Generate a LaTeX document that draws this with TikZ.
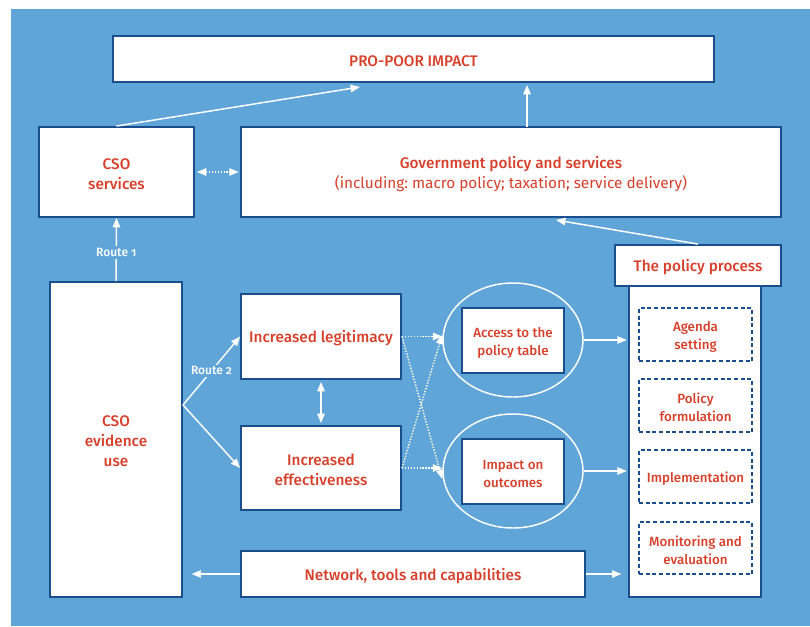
\documentclass[tikz,border=0pt]{standalone}
\usepackage{fontspec}
\setmainfont{Fira Sans}
\newfontfamily\medfont{Fira Sans Medium}
\newfontfamily\routefont{Fira Sans Medium}[Numbers=OldStyle]
\usetikzlibrary{arrows.meta,shapes.geometric,fit}
\frenchspacing

\definecolor{bgblue}{RGB}{95,165,216}
\definecolor{edgeblue}{RGB}{26,78,143}
\definecolor{labelred}{RGB}{215,64,43}

\tikzset{every picture/.style={line width=0.75pt},
  box/.style={draw=edgeblue, fill=white, line width=1.4pt, inner sep=0pt},
  stagebox/.style={box, line width=1.1pt, dash pattern=on 3pt off 2pt},
  boxtext/.style={align=center, inner sep=0pt, yshift=-1.5pt, text=labelred, font=\medfont\fontsize{11.5}{15}\selectfont},
  smalltext/.style={boxtext, font=\medfont\fontsize{10}{13.5}\selectfont},
  ring/.style={ellipse, draw=white, line width=1.1pt, inner sep=0pt,
    minimum width=105pt, minimum height=85.5pt},
  link/.style={draw=white, line width=1.1pt, -{Triangle[length=7pt,width=5.5pt]}},
  twolink/.style={link, {Triangle[length=7pt,width=5.5pt]}-{Triangle[length=7pt,width=5.5pt]}},
  dotlink/.style={link, dash pattern=on 1pt off 1.2pt},
  routetag/.style={fill=bgblue, text=white, inner sep=1.5pt, font=\routefont\fontsize{9}{10}\selectfont}
}

\begin{document}
\begin{tikzpicture}[x=0.75pt,y=0.75pt,yscale=-1,xscale=1]
\useasboundingbox (0,0) rectangle (810,626);
\fill[white] (0,0) rectangle (810,626);
\fill[bgblue] (11,9) rectangle (810,626);

%top row
\node[box, fit={(113,36) (714,82)}, label={[boxtext]center:PRO-POOR IMPACT}] (impact) {};
\node[box, fit={(39,127) (194,217)}, label={[boxtext]center:CSO\\services}] (csos) {};
\node[box, fit={(241,127) (781,217)}, label={[boxtext]center:Government policy and services\\{\rmfamily(including: macro policy; taxation; service delivery)}}] (gov) {};

%left and middle
\node[box, fit={(50,282) (182,597)}, label={[boxtext]center:CSO\\evidence\\use}] (evid) {};
\node[box, fit={(241,294) (401,379)}, label={[boxtext]center:Increased legitimacy}] (legit) {};
\node[box, fit={(241,426) (401,510)}, label={[boxtext]center:Increased\\effectiveness}] (effect) {};
\node[box, fit={(241,551) (585,597)}, label={[boxtext]center:Network, tools and capabilities}] (net) {};

\node[ring] (ring1) at (513,340) {};
\node[ring] (ring2) at (513,471) {};
\node[box, fit={(462,308) (564,373)}, label={[smalltext]center:Access to the\\policy table}] (access) {};
\node[box, fit={(462,439) (564,504)}, label={[smalltext]center:Impact on\\outcomes}] (outcome) {};

%policy process column
\node[box, fit={(629,286) (761,597)}] (column) {};
\node[box, fit={(615,245) (781,286)}, label={[boxtext]center:The policy process}] (head) {};
\node[stagebox, fit={(639,308) (752,361)}, label={[smalltext]center:Agenda\\setting}] (agenda) {};
\node[stagebox, fit={(639,379) (752,432)}, label={[smalltext]center:Policy\\formulation}] (formul) {};
\node[stagebox, fit={(639,450) (752,503)}, label={[smalltext]center:Implementation}] (implem) {};
\node[stagebox, fit={(639,522) (752,574)}, label={[smalltext]center:Monitoring and\\evaluation}] (monit) {};

\coordinate (impactin) at (360,87);
\coordinate (govout) at (527,127);
\coordinate (govin) at (556,220);
\coordinate (fork) at (183,405);

%connectors
\draw[link] (csos.north) -- (impactin);
\draw[link, shorten >=1.5pt] (govout) -- (govout |- impact.south);
\draw[link] (head.north) -- (govin);
\draw[twolink, dash pattern=on 1pt off 1.2pt, shorten <=1.5pt, shorten >=1pt] (csos.east) -- (gov.west);
\draw[link] (evid.north) -- node[routetag, pos=0.45] {Route 1} (csos.south);
\draw[link] (fork) -- node[routetag] {Route 2} (legit.west);
\draw[link] (fork) -- (effect.west);
\draw[twolink, shorten <=1.5pt, shorten >=1.5pt] (legit.south) -- (effect.north);
\draw[dotlink] (legit.east) -- (legit.east -| ring1.west);
\draw[dotlink] (legit.east) -- ([yshift=6pt]ring2.west);
\draw[dotlink] (effect.east) -- (effect.east -| ring2.west);
\draw[dotlink] (effect.east) -- ([yshift=-4pt]ring1.west);
\draw[link, shorten >=1pt] (ring1.east) -- (ring1.east -| column.west);
\draw[link, shorten >=1pt] (ring2.east) -- (ring2.east -| column.west);
\draw[link, shorten >=6.5pt] (net.west) -- (net.west -| evid.east);
\draw[link, shorten >=5pt] (net.east) -- (net.east -| column.west);

\end{tikzpicture}
\end{document}
